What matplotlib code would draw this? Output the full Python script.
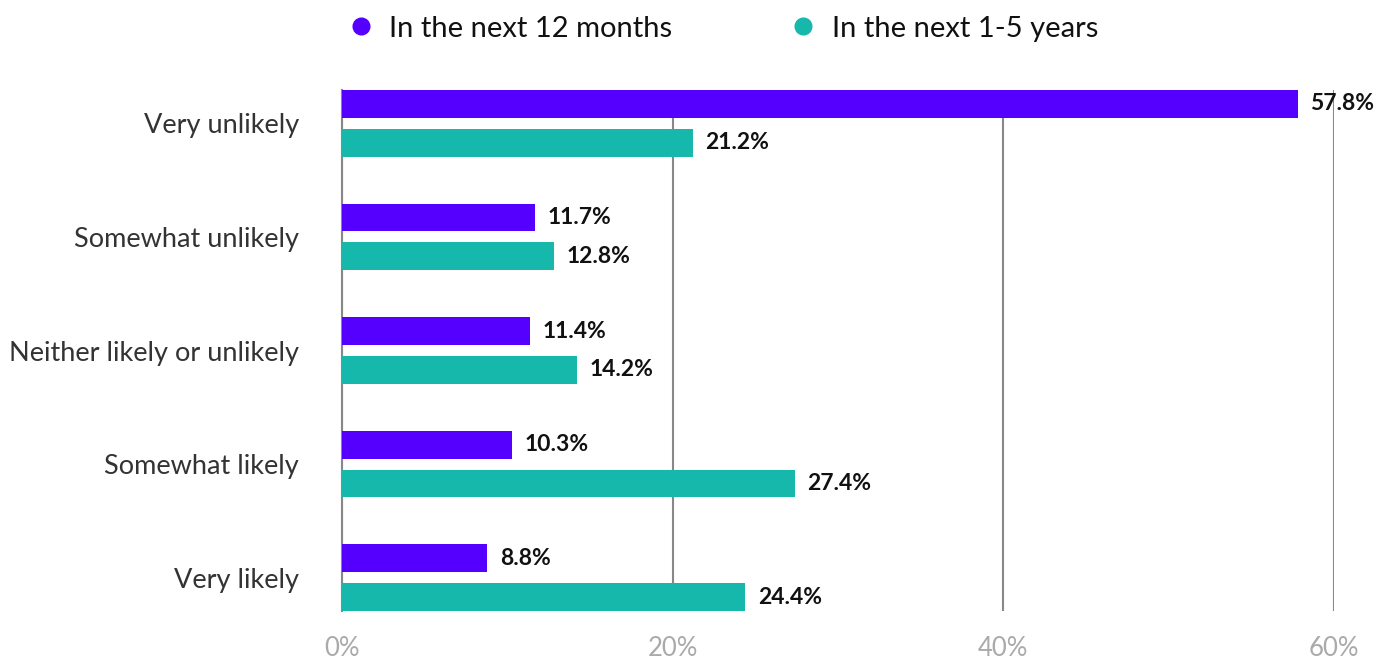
import matplotlib
matplotlib.use("Agg")
import matplotlib.pyplot as plt
import numpy as np
from matplotlib.lines import Line2D

plt.rcParams['font.family'] = ['Lato', 'DejaVu Sans']

categories = ['Very unlikely', 'Somewhat unlikely', 'Neither likely or unlikely',
              'Somewhat likely', 'Very likely']
next_12_months = [57.8, 11.7, 11.4, 10.3, 8.8]
next_1_5_years = [21.2, 12.8, 14.2, 27.4, 24.4]
series_names = ['In the next 12 months', 'In the next 1-5 years']
x_ticks = [0, 20, 40, 60]

purple = '#5500FF'
teal = '#15B8AA'

fig = plt.figure(figsize=(13.86, 6.61), dpi=100)
ax = fig.add_axes([342 / 1386, 1 - 611 / 661, (1334 - 342) / 1386, 521 / 661])

y = np.arange(len(categories))
off = 0.1717
h = 0.2465

ax.barh(y - off, next_12_months, height=h, color=purple, zorder=3)
ax.barh(y + off, next_1_5_years, height=h, color=teal, zorder=3)

# value labels
for vals, shift in [(next_12_months, -off), (next_1_5_years, off)]:
    for yi, v in zip(y, vals):
        ax.annotate(f'{v:.1f}%', xy=(v, yi + shift), xytext=(9, 0),
                    textcoords='offset points', va='center', ha='left',
                    fontsize=16.5, fontweight='bold', color='#111111', zorder=4)

ax.set_xlim(0, 60)
ax.set_ylim(len(categories) - 1 + 0.295, -0.295)
ax.set_xticks(x_ticks)
ax.set_xticklabels([f'{t}%' for t in x_ticks])
ax.set_yticks(y)
ax.set_yticklabels(categories)

ax.tick_params(axis='y', length=0, pad=31, labelsize=19.5, labelcolor='#333333')
ax.tick_params(axis='x', length=0, pad=18, labelsize=18.5, labelcolor='#aaaaaa')

ax.grid(axis='x', color='#888888', linewidth=1.5, zorder=0)
ax.grid(axis='y', visible=False)
for s in ['top', 'right', 'bottom']:
    ax.spines[s].set_visible(False)
ax.spines['left'].set_color('#888888')
ax.spines['left'].set_linewidth(1.5)

handles = [Line2D([], [], marker='o', linestyle='', markersize=12, color=c)
           for c in (purple, teal)]
fig.legend(handles, series_names, loc='upper center', bbox_to_anchor=(0.522, 1.016),
           ncol=2, frameon=False, fontsize=21, handlelength=0.8, handletextpad=0.57,
           columnspacing=4.1, labelcolor='#111111')

fig.savefig('out.png', dpi=100)
